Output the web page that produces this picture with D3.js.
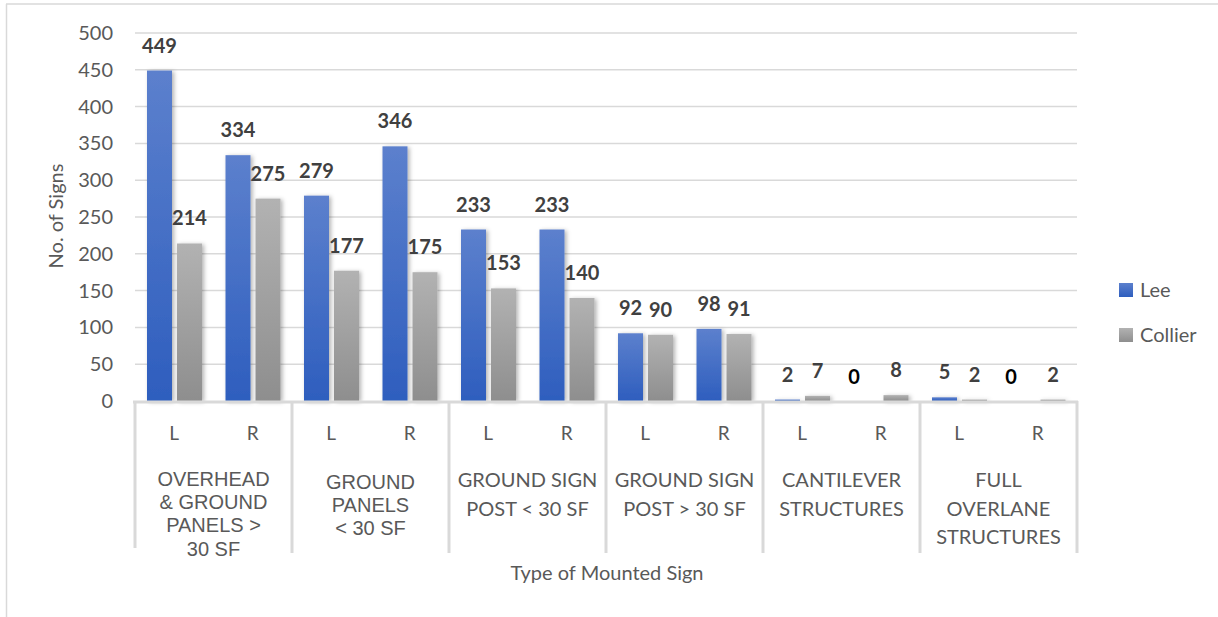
<!DOCTYPE html>
<html>
<head>
<meta charset="utf-8">
<script src="https://cdn.jsdelivr.net/npm/d3@7"></script>
<style>
  html, body { margin: 0; padding: 0; background: #fff; }
  svg { display: block; }
</style>
</head>
<body>
<svg id="chart" width="1218" height="617"></svg>
<script>
// ---- data ----
const groups = [
  ["OVERHEAD", "& GROUND", "PANELS >", "30 SF"],
  ["GROUND", "PANELS", "< 30 SF"],
  ["GROUND SIGN", "POST < 30 SF"],
  ["GROUND SIGN", "POST > 30 SF"],
  ["CANTILEVER", "STRUCTURES"],
  ["FULL", "OVERLANE", "STRUCTURES"]
];
const sides = ["L", "R"];
const seriesNames = ["Lee", "Collier"];
const leeValues     = [449, 334, 279, 346, 233, 233, 92, 98, 2, 0, 5, 0];
const collierValues = [214, 275, 177, 175, 153, 140, 90, 91, 7, 8, 2, 2];
const yTicks = [0, 50, 100, 150, 200, 250, 300, 350, 400, 450, 500];
const yTitle = "No. of Signs";
const xTitle = "Type of Mounted Sign";

// ---- layout ----
const svg = d3.select("#chart");
const plotL = 135, plotR = 1077, plotT = 33, plotB = 401;
const slots = [];
groups.forEach((g, gi) => sides.forEach(s => slots.push(gi + "-" + s)));

const x = d3.scaleBand().domain(slots).range([plotL, plotR]).padding(0);
const xs = d3.scaleBand().domain(seriesNames).range([12, 67]).paddingInner(1/6).paddingOuter(0);
const y = d3.scaleLinear().domain([0, 500]).range([plotB, plotT]);
const groupX = d3.scaleLinear().domain([0, groups.length]).range([plotL, plotR]);

const font = "Lato, 'Noto Sans', sans-serif";
const arial = "'Liberation Sans', Arial, sans-serif";
const textColor = "#595959";
const gridColor = "#d9d9d9";

// defs: gradients + shadow
const defs = svg.append("defs");
const gLee = defs.append("linearGradient").attr("id", "gLee").attr("x1", 0).attr("y1", 0).attr("x2", 0).attr("y2", 1);
gLee.append("stop").attr("offset", "0%").attr("stop-color", "#5c80cd");
gLee.append("stop").attr("offset", "100%").attr("stop-color", "#2e5ebe");
const gCol = defs.append("linearGradient").attr("id", "gCol").attr("x1", 0).attr("y1", 0).attr("x2", 0).attr("y2", 1);
gCol.append("stop").attr("offset", "0%").attr("stop-color", "#b2b2b2");
gCol.append("stop").attr("offset", "100%").attr("stop-color", "#8e8e8e");
const f = defs.append("filter").attr("id", "shadow").attr("x", "-30%").attr("y", "-10%").attr("width", "160%").attr("height", "120%");
f.append("feDropShadow").attr("dx", 2).attr("dy", 1).attr("stdDeviation", 2).attr("flood-color", "#000").attr("flood-opacity", 0.3);

// frame (cropped chart border)
svg.append("line").attr("x1", 6).attr("x2", 1218).attr("y1", 4).attr("y2", 4)
  .attr("stroke", gridColor).attr("stroke-width", 1.5);
svg.append("line").attr("x1", 6.5).attr("x2", 6.5).attr("y1", 4).attr("y2", 617)
  .attr("stroke", gridColor).attr("stroke-width", 1.5);

// gridlines
svg.append("g").selectAll("line").data(yTicks.filter(t => t > 0)).join("line")
  .attr("x1", plotL).attr("x2", plotR)
  .attr("y1", d => y(d)).attr("y2", d => y(d))
  .attr("stroke", gridColor).attr("stroke-width", 1.5);

// y tick labels
svg.append("g").selectAll("text").data(yTicks).join("text")
  .attr("x", 113).attr("y", d => y(d) + 7)
  .attr("text-anchor", "end")
  .attr("font-family", font).attr("font-size", 20).attr("fill", textColor)
  .text(d => d);

// bars
const series = [
  { name: "Lee", values: leeValues, fill: "url(#gLee)" },
  { name: "Collier", values: collierValues, fill: "url(#gCol)" }
];
const barG = svg.append("g").attr("filter", "url(#shadow)");
series.forEach(s => {
  barG.selectAll(null).data(s.values).join("rect")
    .attr("x", (d, i) => x(slots[i]) + xs(s.name))
    .attr("width", xs.bandwidth())
    .attr("y", d => y(d))
    .attr("height", d => Math.max(0, y(0) - y(d)))
    .attr("fill", s.fill);
});

// data labels
series.forEach(s => {
  svg.append("g").selectAll("text").data(s.values).join("text")
    .attr("x", (d, i) => x(slots[i]) + xs(s.name) + xs.bandwidth() / 2 - (d === 0 ? 12 : 0))
    .attr("y", d => y(d) - (d === 0 ? 17 : 18))
    .attr("text-anchor", "middle")
    .attr("font-family", font).attr("font-weight", "bold").attr("font-size", 20)
    .attr("fill", d => d === 0 ? "#000" : "#404040")
    .text(d => d);
});

// x axis line
svg.append("line").attr("x1", plotL - 2).attr("x2", plotR + 1).attr("y1", plotB + 1).attr("y2", plotB + 1)
  .attr("stroke", gridColor).attr("stroke-width", 3);

// group separators
svg.append("g").selectAll("line").data(d3.range(groups.length + 1)).join("line")
  .attr("x1", d => groupX(d)).attr("x2", d => groupX(d))
  .attr("y1", plotB).attr("y2", d => d === 0 ? 548 : 553)
  .attr("stroke", gridColor).attr("stroke-width", 3);

// L / R labels
svg.append("g").selectAll("text").data(slots).join("text")
  .attr("x", d => x(d) + x.bandwidth() / 2)
  .attr("y", 440)
  .attr("text-anchor", "middle")
  .attr("font-family", font).attr("font-size", 19).attr("fill", textColor)
  .text(d => d.split("-")[1]);

// group labels
groups.forEach((lines, gi) => {
  const cx = (groupX(gi) + groupX(gi + 1)) / 2;
  const isArial = gi < 2;
  const y0 = isArial ? (lines.length === 4 ? 486 : 489) : 487;
  const dy = isArial ? 23.2 : 28.5;
  const t = svg.append("text")
    .attr("text-anchor", "middle")
    .attr("font-family", isArial ? arial : font)
    .attr("font-size", 20)
    .attr("fill", textColor);
  lines.forEach((ln, li) => {
    t.append("tspan").attr("x", cx).attr("y", y0 + li * dy).text(ln);
  });
});

// axis titles
svg.append("text")
  .attr("transform", "translate(63,216) rotate(-90)")
  .attr("text-anchor", "middle")
  .attr("font-family", font).attr("font-size", 20).attr("fill", textColor)
  .text(yTitle);
svg.append("text")
  .attr("x", 607).attr("y", 580)
  .attr("text-anchor", "middle")
  .attr("font-family", font).attr("font-size", 20).attr("fill", textColor)
  .text(xTitle);

// legend
const legend = svg.append("g");
series.forEach((s, i) => {
  const ly = 283 + i * 45;
  legend.append("rect").attr("x", 1119).attr("y", ly).attr("width", 14).attr("height", 14).attr("fill", s.fill);
  legend.append("text").attr("x", 1140).attr("y", ly + 14)
    .attr("font-family", font).attr("font-size", 20).attr("fill", textColor)
    .text(s.name);
});
</script>
</body>
</html>
